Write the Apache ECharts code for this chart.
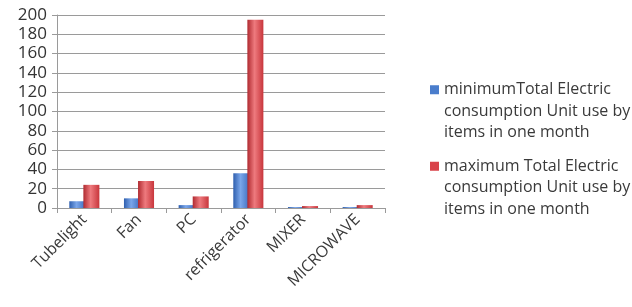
<!DOCTYPE html>
<html>
<head>
<meta charset="utf-8">
<script src="https://cdn.jsdelivr.net/npm/echarts@6/dist/echarts.min.js"></script>
<style>
  html, body { margin: 0; padding: 0; background: #fff; }
  #chart { width: 632px; height: 307px; }
</style>
</head>
<body>
<div id="chart"></div>
<script>
var categories = ['Tubelight', 'Fan', 'PC', 'refrigerator', 'MIXER', 'MICROWAVE']
var minValues = [7, 10, 3, 36, 1, 1]
var maxValues = [24, 28, 12, 195, 2, 3]
var seriesNames = [
  'minimumTotal Electric\nconsumption Unit use by\nitems in one month',
  'maximum Total Electric\nconsumption Unit use by\nitems in one month'
]
var yTicks = { min: 0, max: 200, interval: 20 }
var colors = ['#4a7dcc', '#d9434a']

// horizontal gradient so the bars look a bit like the cylinders
function cylinder (dark, mid, light) {
  return new echarts.graphic.LinearGradient(0, 0, 1, 0, [
    { offset: 0, color: dark },
    { offset: 0.45, color: light },
    { offset: 1, color: mid }
  ])
}

// small square at the top of a tall icon box, so it sits on the first text line
var legendIcon = 'path://M0,0h9v9h-9z M0,51.9h0.1v0.1h-0.1z'

var myChart = echarts.init(document.getElementById('chart'))
var font = '"Open Sans", "Noto Sans", sans-serif'
var option = {
  animation: false,
  textStyle: { fontFamily: font },
  grid: { left: 57, right: 247, top: 15, bottom: 99 },
  legend: {
    orient: 'vertical',
    left: 425,
    top: 74,
    itemWidth: 9,
    itemHeight: 52,
    itemGap: 12,
    icon: legendIcon,
    textStyle: { fontSize: 16, color: '#3a3a3a', lineHeight: 21.5, fontFamily: font },
    data: [
      { name: seriesNames[0], itemStyle: { color: colors[0] } },
      { name: seriesNames[1], itemStyle: { color: colors[1] } }
    ]
  },
  xAxis: {
    type: 'category',
    data: categories,
    axisLine: { lineStyle: { color: '#9a9a9a' } },
    axisTick: { show: true, lineStyle: { color: '#9a9a9a' } },
    axisLabel: { rotate: 45, fontSize: 16, color: '#3a3a3a', margin: 9, fontFamily: font }
  },
  yAxis: {
    type: 'value',
    min: yTicks.min,
    max: yTicks.max,
    interval: yTicks.interval,
    axisLine: { show: true, lineStyle: { color: '#9a9a9a' } },
    axisTick: { show: true, lineStyle: { color: '#9a9a9a' } },
    axisLabel: { fontSize: 17, color: '#333', margin: 10, fontFamily: font },
    splitLine: { lineStyle: { color: '#9a9a9a', width: 1.2 } }
  },
  series: [{
    name: seriesNames[0],
    type: 'bar',
    data: minValues,
    barWidth: 16,
    barGap: '-12%',
    itemStyle: { color: cylinder('#2f5fae', '#3f6fc0', '#7aa6ea') },
    z: 2
  }, {
    name: seriesNames[1],
    type: 'bar',
    data: maxValues,
    barWidth: 16,
    itemStyle: { color: cylinder('#b02a30', '#c8363c', '#ee7a7e') },
    z: 3
  }],
  color: colors
}

myChart.setOption(option, true)
</script>
</body>
</html>
